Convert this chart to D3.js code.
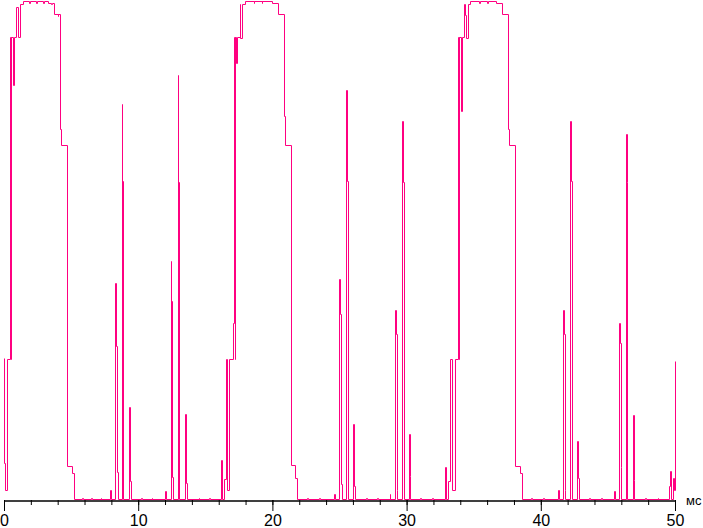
<!DOCTYPE html>
<html>
<head>
<meta charset="utf-8">
<script src="https://cdn.jsdelivr.net/npm/d3@7"></script>
<style>
  html, body { margin: 0; padding: 0; background: #fff; }
  svg { display: block; }
</style>
</head>
<body>
<svg id="chart" width="703" height="528"></svg>
<script>
// Time in ms, brightness in % (step trace)
const pulse1 = [
  [0, 28.4],[0, 7.4],[0.07, 2],[0.21, 28.2],[0.44, 92.6],[0.5, 28.2],[0.51, 92.6],[0.66, 83],[0.73, 92.6],
  [0.88, 98.6],[1.06, 92.6],[1.18, 99.2],[1.43, 99.8],[1.9, 99.4],[1.96, 99.8],[2.4, 99.4],[2.45, 99.8],
  [2.9, 99.4],[2.95, 99.8],[3.26, 99.5],[3.5, 99.2],[3.55, 99.5],[3.71, 97.2],[4.0, 96.8],[4.05, 97.2],
  [4.14, 74.2],[4.26, 71],[4.68, 6.8],[5.08, 5.4],[5.23, 0.2]
];
const spikes1 = [
  [5.8, 0.4],[5.85, 0.2],[6.5, 0.4],[6.55, 0.2],[7.2, 0.4],[7.25, 0.2],
  [7.88, 2],[7.96, 0.2],
  [8.26, 43.5],[8.33, 30.9],[8.41, 5.7],[8.48, 0.2],
  [8.78, 79.3],[8.83, 63.9],[8.88, 0.2],
  [9.30, 18.7],[9.37, 3.9],[9.43, 0.2],
  [10.2, 0.4],[10.25, 0.2],[11.0, 0.4],[11.05, 0.2],
  [12.03, 1.9],[12.1, 0.2],
  [12.41, 47.7],[12.48, 39.9],[12.55, 4.7],[12.61, 0.2],
  [12.95, 84.9],[13.0, 63.6],[13.06, 0.2],
  [13.47, 17.3],[13.55, 3.5],[13.6, 0.2],
  [14.5, 0.4],[14.55, 0.2],[15.3, 0.4],[15.35, 0.2]
];
const pulse2 = [
  [16.17, 8],[16.24, 0.2],[16.41, 4.2],[16.54, 28.2],[16.62, 2],[16.77, 28.2],[17.06, 35.4],[17.12, 92.6],
  [17.20, 28.2],[17.205, 92.6],[17.32, 87.4],[17.38, 92.6],[17.55, 99.2],[17.62, 92.4],[17.70, 99.2],
  [17.99, 99.8],[18.6, 99.4],[18.65, 99.8],[19.2, 99.4],[19.25, 99.8],[19.99, 99.5],[20.40, 97.2],
  [20.83, 76.7],[20.92, 70.9],[21.37, 7],[21.72, 4.4],[21.82, 0.2]
];
const spikes2 = [
  [22.6, 0.4],[22.65, 0.2],[23.5, 0.4],[23.55, 0.2],
  [24.58, 1.3],[24.63, 0.2],
  [24.95, 44.3],[25.02, 37.3],[25.10, 3.3],[25.15, 0.2],
  [25.47, 82],[25.54, 63.8],[25.6, 0.2],
  [25.99, 15.2],[26.07, 2.8],[26.12, 0.2],
  [27.0, 0.4],[27.05, 0.2],[27.8, 0.4],[27.85, 0.2],
  [28.75, 1.3],[28.8, 0.2],
  [29.12, 38],[29.2, 33.2],[29.27, 2],[29.32, 0.2],
  [29.64, 75.8],[29.72, 63.7],[29.77, 0.2],
  [30.16, 13.3],[30.24, 4.8],[30.29, 0.2],
  [31.0, 0.4],[31.05, 0.2],[31.9, 0.4],[31.95, 0.2]
];
const pulse3 = [
  [32.86, 6.6],[32.94, 0.2],[33.12, 3.8],[33.23, 28.2],[33.35, 2],[33.57, 28.2],[33.85, 92.6],[33.91, 28.2],
  [33.915, 92.6],[34.09, 77.8],[34.14, 92.6],[34.29, 99.2],[34.37, 97],[34.44, 92.4],[34.54, 99.2],
  [34.76, 99.8],[35.4, 99.4],[35.45, 99.8],[36.0, 99.4],[36.05, 99.8],[36.68, 99.5],[37.09, 97.2],
  [37.52, 74.2],[37.64, 71],[38.06, 6.8],[38.46, 5.4],[38.61, 0.2]
];
const spikes3 = [
  [39.3, 0.4],[39.35, 0.2],[40.2, 0.4],[40.25, 0.2],
  [41.27, 2.1],[41.33, 0.2],
  [41.64, 38],[41.71, 33.2],[41.79, 2],[41.84, 0.2],
  [42.16, 75.8],[42.24, 63.8],[42.29, 0.2],
  [42.68, 11.8],[42.76, 4.5],[42.81, 0.2],
  [43.6, 0.4],[43.65, 0.2],[44.5, 0.4],[44.55, 0.2],
  [45.44, 1.8],[45.5, 0.2],
  [45.81, 35.5],[45.89, 31.5],[45.96, 6.7],[46.01, 0.2],
  [46.33, 73.2],[46.41, 63.7],[46.46, 0.2],
  [46.86, 17],[46.93, 4],[46.98, 0.2],
  [47.8, 0.4],[47.85, 0.2],[48.7, 0.4],[48.75, 0.2],
  [49.54, 2.8],[49.61, 5.8],[49.68, 0.2],[49.84, 4.5],[49.9, 2],[49.97, 27.8],[50, 27.8]
];
const majorTicks = [0, 10, 20, 30, 40, 50];
const minorTicks = d3.range(0, 51, 2);
const unitLabel = "мс";

const trace = [].concat(pulse1, spikes1, pulse2, spikes2, pulse3, spikes3);

const svg = d3.select("#chart");
const x = d3.scaleLinear().domain([0, 50]).range([4, 675]);
const y = d3.scaleLinear().domain([0, 100]).range([500, 0]);

// Axis
const axisG = svg.append("g").attr("transform", "translate(0,500)");
axisG.call(d3.axisBottom(x).tickValues(minorTicks).tickSize(5).tickSizeOuter(0).tickFormat(""));
const majorG = svg.append("g").attr("transform", "translate(0,500)");
majorG.call(d3.axisBottom(x).tickValues(majorTicks).tickSize(11).tickSizeOuter(0).tickFormat(d3.format("d")));
svg.selectAll(".domain").attr("stroke", "#000").attr("transform", "translate(0,0.5)");
svg.selectAll(".tick line").attr("stroke", "#000");
majorG.selectAll(".tick text")
  .attr("y", 26).attr("dy", null)
  .attr("font-family", "'Liberation Sans', Arial, sans-serif")
  .attr("font-size", 16).attr("fill", "#000");

svg.append("text")
  .attr("x", 686).attr("y", 505)
  .attr("font-family", "'Liberation Sans', Arial, sans-serif")
  .attr("font-size", 13).attr("fill", "#000")
  .text(unitLabel);

// Trace (snapped to pixel centres for a crisp 1px look)
const line = d3.line()
  .x(d => Math.round(x(d[0])) + 0.5)
  .y(d => Math.round(y(d[1])) + 0.5)
  .curve(d3.curveStepAfter);

svg.append("path")
  .datum(trace)
  .attr("d", line)
  .attr("fill", "none")
  .attr("stroke", "#ff0080")
  .attr("stroke-width", 1);
</script>
</body>
</html>
